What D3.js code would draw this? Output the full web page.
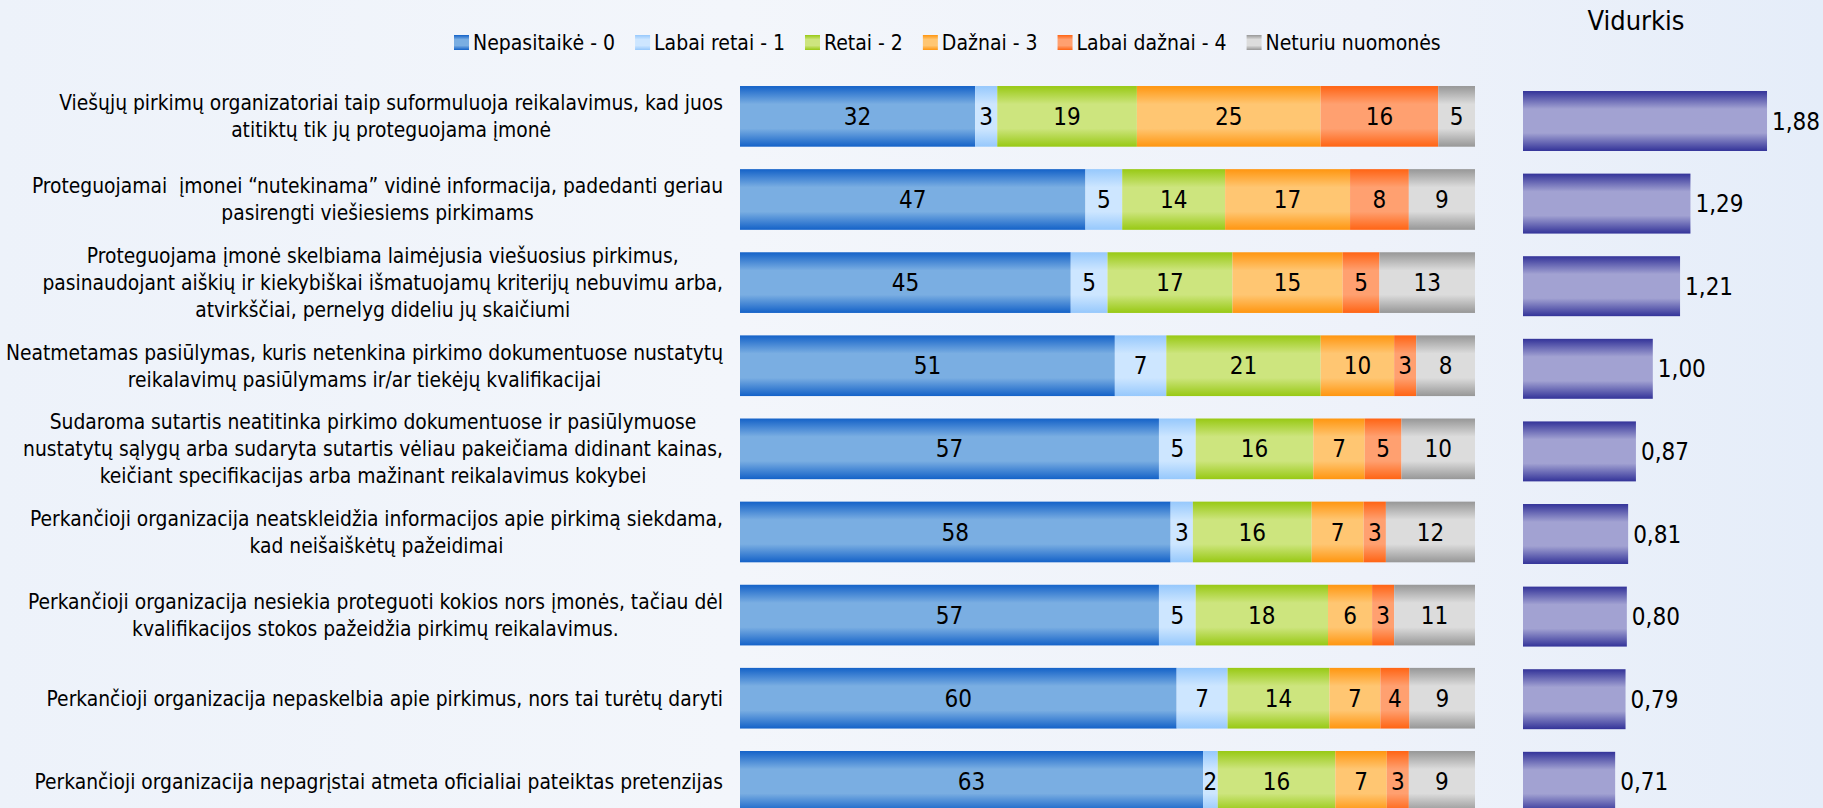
<!DOCTYPE html>
<html>
<head>
<meta charset="utf-8">
<script src="https://cdn.jsdelivr.net/npm/d3@7"></script>
<style>
  html, body { margin: 0; padding: 0; background: #f1f4fa; }
  svg { display: block; }
  text { font-family: "DejaVu Sans Condensed", "DejaVu Sans", sans-serif; font-stretch: condensed; fill: #000; }
</style>
</head>
<body>
<svg id="chart" width="1823" height="808"></svg>
<script>
// ---------- DATA ----------
const categories = [
  ["Viešųjų pirkimų organizatoriai taip suformuluoja reikalavimus, kad juos", "atitiktų tik jų proteguojama įmonė"],
  ["Proteguojamai  įmonei “nutekinama” vidinė informacija, padedanti geriau", "pasirengti viešiesiems pirkimams"],
  ["Proteguojama įmonė skelbiama laimėjusia viešuosius pirkimus,", "pasinaudojant aiškių ir kiekybiškai išmatuojamų kriterijų nebuvimu arba,", "atvirkščiai, pernelyg dideliu jų skaičiumi"],
  ["Neatmetamas pasiūlymas, kuris netenkina pirkimo dokumentuose nustatytų", "reikalavimų pasiūlymams ir/ar tiekėjų kvalifikacijai"],
  ["Sudaroma sutartis neatitinka pirkimo dokumentuose ir pasiūlymuose", "nustatytų sąlygų arba sudaryta sutartis vėliau pakeičiama didinant kainas,", "keičiant specifikacijas arba mažinant reikalavimus kokybei"],
  ["Perkančioji organizacija neatskleidžia informacijos apie pirkimą siekdama,", "kad neišaiškėtų pažeidimai"],
  ["Perkančioji organizacija nesiekia proteguoti kokios nors įmonės, tačiau dėl", "kvalifikacijos stokos pažeidžia pirkimų reikalavimus."],
  ["Perkančioji organizacija nepaskelbia apie pirkimus, nors tai turėtų daryti"],
  ["Perkančioji organizacija nepagrįstai atmeta oficialiai pateiktas pretenzijas"]
];
const seriesNames = ["Nepasitaikė - 0", "Labai retai - 1", "Retai - 2", "Dažnai - 3", "Labai dažnai - 4", "Neturiu nuomonės"];
const nepasitaike = [32, 47, 45, 51, 57, 58, 57, 60, 63];
const labaiRetai  = [3, 5, 5, 7, 5, 3, 5, 7, 2];
const retai       = [19, 14, 17, 21, 16, 16, 18, 14, 16];
const daznai      = [25, 17, 15, 10, 7, 7, 6, 7, 7];
const labaiDaznai = [16, 8, 5, 3, 5, 3, 3, 4, 3];
const neturiu     = [5, 9, 13, 8, 10, 12, 11, 9, 9];
const vidurkis    = [1.88, 1.29, 1.21, 1.00, 0.87, 0.81, 0.80, 0.79, 0.71];
const avgTitle = "Vidurkis";

// ---------- STYLE ----------
const seriesColors = [
  ["#1462c8", "#7aaee2"],
  ["#96c8fc", "#cde6ff"],
  ["#98c914", "#cde57e"],
  ["#ff9610", "#ffc672"],
  ["#ff6414", "#ffa070"],
  ["#979797", "#dcdcdc"]
];
const avgColors = ["#333399", "#a2a2d2"];

const svg = d3.select("#chart");
const W = 1823, H = 808;
const defs = svg.append("defs");

// background
const bg = defs.append("linearGradient").attr("id", "bg").attr("x1", 0).attr("x2", 1).attr("y1", 0).attr("y2", 0);
bg.append("stop").attr("offset", "0%").attr("stop-color", "#edf2fa");
bg.append("stop").attr("offset", "40%").attr("stop-color", "#f3f6fb");
bg.append("stop").attr("offset", "75%").attr("stop-color", "#eef2fa");
bg.append("stop").attr("offset", "100%").attr("stop-color", "#e5edf9");
svg.append("rect").attr("width", W).attr("height", H).attr("fill", "url(#bg)");

function cylGrad(id, dark, light) {
  const g = defs.append("linearGradient").attr("id", id).attr("x1", 0).attr("x2", 0).attr("y1", 0).attr("y2", 1);
  g.append("stop").attr("offset", "0%").attr("stop-color", dark);
  g.append("stop").attr("offset", "30%").attr("stop-color", light);
  g.append("stop").attr("offset", "70%").attr("stop-color", light);
  g.append("stop").attr("offset", "100%").attr("stop-color", dark);
}
seriesColors.forEach((c, i) => cylGrad("g" + i, c[0], c[1]));
cylGrad("gavg", avgColors[0], avgColors[1]);

// ---------- DATA TABLE ----------
const seriesArrays = [nepasitaike, labaiRetai, retai, daznai, labaiDaznai, neturiu];
const keys = seriesNames;
const rows = categories.map((c, i) => {
  const r = { idx: i };
  keys.forEach((k, j) => r[k] = seriesArrays[j][i]);
  return r;
});
const stacked = d3.stack().keys(keys).offset(d3.stackOffsetExpand)(rows);

// ---------- SCALES ----------
const idxs = categories.map((c, i) => i);
const y = d3.scaleBand().domain(idxs).range([74.8, 822.9]).paddingInner(0.27).paddingOuter(0.135);
const yAvg = d3.scaleBand().domain(idxs).range([79.7, 823.1]).paddingInner(0.274).paddingOuter(0.137);
const x = d3.scaleLinear().domain([0, 1]).range([740, 1475]);
const xAvg = d3.scaleLinear().domain([0, 2]).range([1523, 1782.6]);

// ---------- STACKED BARS ----------
const layers = svg.append("g").selectAll("g").data(stacked).join("g")
  .attr("fill", (d, i) => `url(#g${i})`);
layers.selectAll("rect").data(d => d).join("rect")
  .attr("x", d => x(d[0]))
  .attr("width", d => x(d[1]) - x(d[0]))
  .attr("y", d => y(d.data.idx))
  .attr("height", y.bandwidth());

const valLayer = svg.append("g");
stacked.forEach((layer) => {
  valLayer.append("g").selectAll("text").data(layer).join("text")
    .attr("x", d => (x(d[0]) + x(d[1])) / 2)
    .attr("y", d => y(d.data.idx) + y.bandwidth() / 2)
    .attr("dy", "0.36em")
    .attr("text-anchor", "middle")
    .attr("font-size", 24)
    .text(d => d.data[layer.key]);
});

// ---------- CATEGORY LABELS ----------
const labelRight = 723, lineH = 27;
const lab = svg.append("g").attr("font-size", 20.8);
categories.forEach((lines, i) => {
  const g = lab.append("g");
  const cy = y(i) + y.bandwidth() / 2;
  const ts = lines.map((ln, k) => g.append("text")
    .style("white-space", "pre")
    .attr("y", cy + (k - (lines.length - 1) / 2) * lineH)
    .attr("dy", "0.36em")
    .attr("text-anchor", "middle")
    .text(ln));
  const maxW = d3.max(ts, t => t.node().getComputedTextLength());
  ts.forEach(t => t.attr("x", labelRight - maxW / 2));
});

// ---------- AVERAGE BARS ----------
svg.append("g").selectAll("rect").data(vidurkis).join("rect")
  .attr("x", xAvg(0))
  .attr("y", (d, i) => yAvg(i))
  .attr("width", d => xAvg(d) - xAvg(0))
  .attr("height", yAvg.bandwidth())
  .attr("fill", "url(#gavg)");
const fmt = d3.format(".2f");
svg.append("g").selectAll("text").data(vidurkis).join("text")
  .attr("x", d => xAvg(d) + 5)
  .attr("y", (d, i) => yAvg(i) + yAvg.bandwidth() / 2)
  .attr("dy", "0.36em")
  .attr("font-size", 24)
  .text(d => fmt(d).replace(".", ","));

svg.append("text").attr("x", 1636).attr("y", 20).attr("dy", "0.36em")
  .attr("text-anchor", "middle").attr("font-size", 27).text(avgTitle);

// ---------- LEGEND ----------
const legend = svg.append("g").attr("font-size", 21);
let lx = 454;
seriesNames.forEach((name, i) => {
  legend.append("rect").attr("x", lx).attr("y", 35).attr("width", 15).attr("height", 15)
    .attr("fill", `url(#g${i})`);
  const t = legend.append("text").attr("x", lx + 19).attr("y", 42.5).attr("dy", "0.36em").text(name);
  lx += 19 + t.node().getComputedTextLength() + 20;
});
</script>
</body>
</html>
